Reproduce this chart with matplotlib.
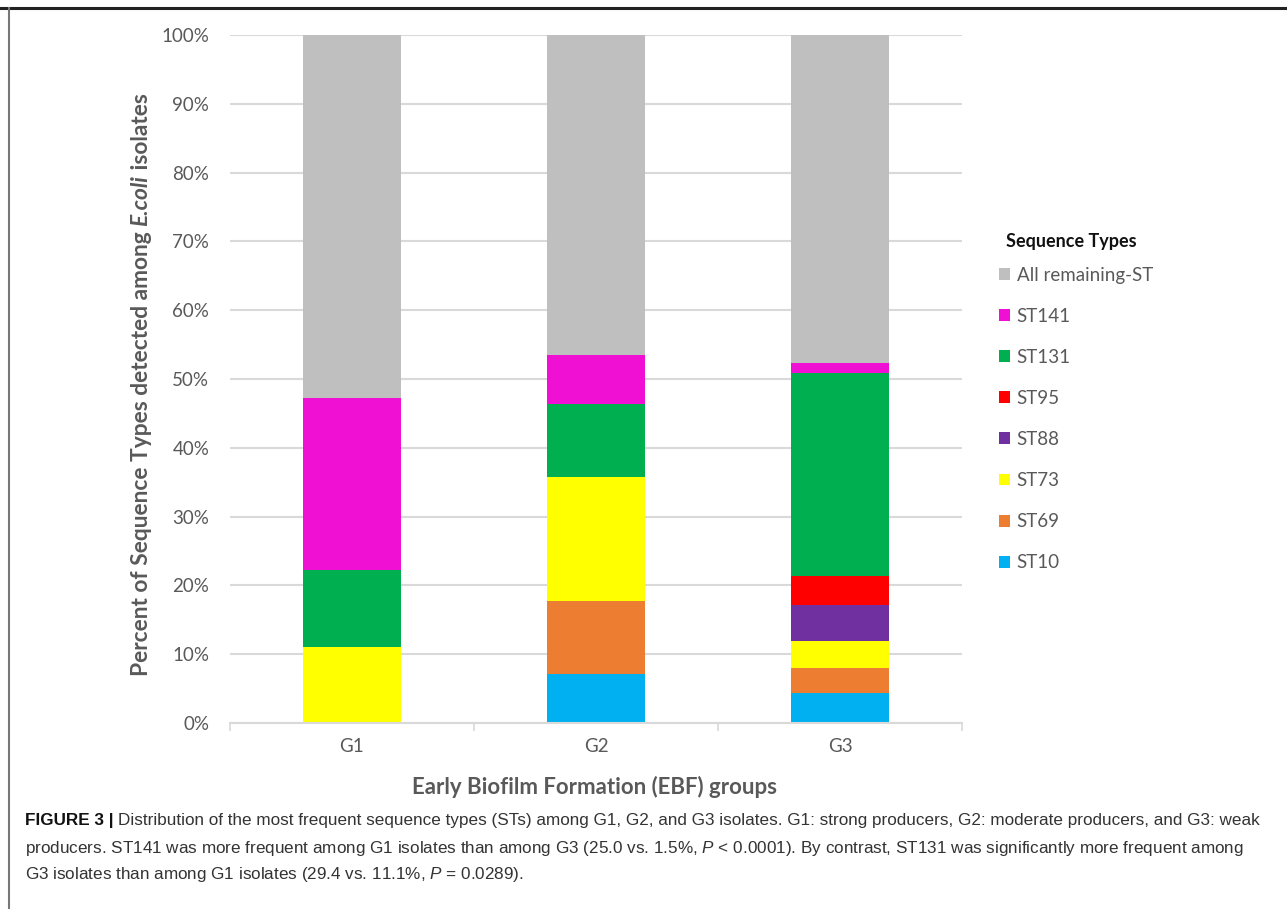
import matplotlib

matplotlib.use("Agg")
import matplotlib.pyplot as plt
from matplotlib.lines import Line2D
from matplotlib.patches import Patch

groups = ["G1", "G2", "G3"]
st_names = ["ST10", "ST69", "ST73", "ST88", "ST95", "ST131", "ST141", "All remaining-ST"]
st10 = [0.0, 7.1, 4.4]
st69 = [0.0, 10.7, 3.6]
st73 = [11.1, 17.9, 3.9]
st88 = [0.0, 0.0, 5.2]
st95 = [0.0, 0.0, 4.3]
st131 = [11.1, 10.7, 29.4]
st141 = [25.0, 7.1, 1.5]
remaining = [52.8, 46.5, 47.7]
colors = ["#00b0f0", "#ed7d31", "#ffff00", "#7030a0", "#ff0000", "#00b050", "#f010d4", "#bfbfbf"]
yticks = [0, 10, 20, 30, 40, 50, 60, 70, 80, 90, 100]

ylabel_parts = ["Percent of Sequence Types detected among ", "E.coli", " isolates"]
legend_title = "Sequence Types"
caption_head = "FIGURE 3 |"
caption_lines = [
    "Distribution of the most frequent sequence types (STs) among G1, G2, and G3 isolates. G1: strong producers, G2: moderate producers, and G3: weak",
    "producers. ST141 was more frequent among G1 isolates than among G3 (25.0 vs. 1.5%, $P$ < 0.0001). By contrast, ST131 was significantly more frequent among",
    "G3 isolates than among G1 isolates (29.4 vs. 11.1%, $P$ = 0.0289).",
]

plt.rcParams["font.family"] = "Lato"
plt.rcParams["mathtext.fontset"] = "custom"
plt.rcParams["mathtext.it"] = "Liberation Sans:style=italic"
plt.rcParams["mathtext.rm"] = "Liberation Sans"

fig = plt.figure(figsize=(12.87, 9.09), dpi=100)
ax = fig.add_axes([230 / 1287, 1 - 723 / 909, 732 / 1287, 688 / 909])

series = [st10, st69, st73, st88, st95, st131, st141, remaining]
x = list(range(len(groups)))
bottom = [0.0] * len(groups)
for name, vals, col in zip(st_names, series, colors):
    ax.bar(x, vals, width=0.4, bottom=bottom, color=col, label=name, zorder=2)
    bottom = [b + v for b, v in zip(bottom, vals)]

ax.set_xlim(-0.5, 2.5)
ax.set_ylim(0, 100)
ax.set_yticks(yticks)
ax.set_yticklabels([f"{t}%" for t in yticks])
ax.set_xticks(x)
ax.set_xticklabels(groups)
ax.set_xticks([-0.5, 0.5, 1.5, 2.5], minor=True)
ax.tick_params(axis="y", length=0, pad=15, labelsize=13.5, labelcolor="#595959")
ax.tick_params(axis="x", which="major", length=0, pad=11, labelsize=13.5, labelcolor="#595959")
ax.tick_params(axis="x", which="minor", length=6, width=1.2, color="#d9d9d9")
ax.grid(axis="y", color="#d9d9d9", linewidth=1.5, zorder=0)
ax.set_axisbelow(True)
for side in ["top", "right", "left"]:
    ax.spines[side].set_visible(False)
ax.spines["bottom"].set_color("#d9d9d9")
ax.spines["bottom"].set_linewidth(1.5)

fig.text(595 / 1287, 1 - 787 / 909, "Early Biofilm Formation (EBF) groups", fontsize=16,
         fontweight="bold", color="#595959", ha="center", va="center")

# y label built from pieces so that only E.coli is italic
renderer = fig.canvas.get_renderer()
styles = ["normal", "italic", "normal"]
pieces = []
for txt, st in zip(ylabel_parts, styles):
    t = fig.text(0, 0, txt, fontsize=16.4, fontweight="bold", style=st, color="#595959",
                 rotation=90, rotation_mode="anchor", ha="left", va="center")
    pieces.append(t)
heights = [p.get_window_extent(renderer).height for p in pieces]
total = sum(heights)
y_px = (909 - 385) - total / 2
for p, h in zip(pieces, heights):
    p.set_position((141 / 1287, y_px / 909))
    y_px += h

handles = [Patch(facecolor=c, edgecolor="none") for c in colors][::-1]
labels = st_names[::-1]
leg = fig.legend(
    handles, labels, loc="center left",
    bbox_to_anchor=(982 / 1287, 1 - 419 / 909), frameon=False,
    fontsize=13.5, labelcolor="#595959", handlelength=0.6, handleheight=0.6,
    handletextpad=0.35, labelspacing=1.285,
)
fig.text(1006 / 1287, 1 - 241 / 909, legend_title, fontsize=13, fontweight="bold",
         color="#111111", va="center")

# figure frame: black top rule and grey left rule
fig.add_artist(Line2D([0, 1], [1 - 8 / 909, 1 - 8 / 909], color="#222222", linewidth=2.2))
fig.add_artist(Line2D([9 / 1287, 9 / 1287], [0, 1 - 8 / 909], color="#777777", linewidth=1.5))

cap_y = [1 - 821 / 909, 1 - 848 / 909, 1 - 875 / 909]
cap_font = "Liberation Sans"
cap_size = 12.3
head = fig.text(25 / 1287, cap_y[0], caption_head, fontsize=cap_size, fontweight="bold",
                family=cap_font, color="#111111", va="center")
head_end = head.get_window_extent(renderer).x1
fig.text((head_end + 5) / 1287, cap_y[0], caption_lines[0], fontsize=cap_size, family=cap_font,
         color="#333333", va="center")
fig.text(25 / 1287, cap_y[1], caption_lines[1], fontsize=cap_size, family=cap_font,
         color="#333333", va="center")
fig.text(25 / 1287, cap_y[2], caption_lines[2], fontsize=cap_size, family=cap_font,
         color="#333333", va="center")

fig.savefig("out.png", dpi=100)
